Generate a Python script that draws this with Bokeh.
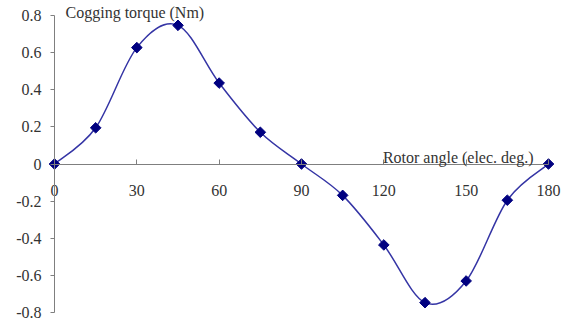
import numpy as np
from bokeh.plotting import figure
from bokeh.models import Range1d, FixedTicker, Label
from bokeh.embed import file_html
from bokeh.resources import INLINE

# ---- data ----
angles = [0, 15, 30, 45, 60, 75, 90, 105, 120, 135, 150, 165, 180]
torque = [0, 0.195, 0.627, 0.747, 0.436, 0.171, 0, -0.169, -0.436, -0.747, -0.63, -0.195, 0]
x_ticks = [0, 30, 60, 90, 120, 150, 180]
x_tick_labels = ["0", "30", "60", "90", "120", "150", "180"]
y_ticks = [-0.8, -0.6, -0.4, -0.2, 0, 0.2, 0.4, 0.6, 0.8]
y_tick_labels = ["-0.8", "-0.6", "-0.4", "-0.2", "0", "0.2", "0.4", "0.6", "0.8"]
y_title = "Cogging torque (Nm)"
x_title = "Rotor angle (elec. deg.)"

FONT = "Liberation Serif"
TXT = "#333333"
AX = "#7f7f7f"

W, H = 570, 326
p = figure(width=W, height=H, output_backend="svg", toolbar_location=None,
           x_range=Range1d(-19.68, 188.02), y_range=Range1d(-0.8754, 0.8808),
           min_border_left=0, min_border_right=0, min_border_top=0, min_border_bottom=0)
p.outline_line_color = None
p.grid.visible = False

# smooth curve (Catmull-Rom style Bezier through the data points)
x = np.array(angles, dtype=float)
y = np.array(torque, dtype=float)
xp = np.concatenate([[x[0]], x, [x[-1]]])
yp = np.concatenate([[y[0]], y, [y[-1]]])
i = np.arange(len(x) - 1)
cx0 = xp[i + 1] + (xp[i + 2] - xp[i]) / 6
cy0 = yp[i + 1] + (yp[i + 2] - yp[i]) / 6
cx1 = xp[i + 2] - (xp[i + 3] - xp[i + 1]) / 6
cy1 = yp[i + 2] - (yp[i + 3] - yp[i + 1]) / 6
p.bezier(x0=x[:-1], y0=y[:-1], x1=x[1:], y1=y[1:], cx0=cx0, cy0=cy0, cx1=cx1, cy1=cy1,
         line_color="#3535a5", line_width=1.5)
p.scatter(angles, torque, marker="square", angle=np.pi / 4, size=7.5,
          fill_color="#000080", line_color="#000080")

# axes crossing at the origin
xa = p.xaxis[0]
ya = p.yaxis[0]
xa.fixed_location = 0
ya.fixed_location = 0
xa.bounds = (0, 180)
ya.bounds = (-0.8, 0.8)
xa.ticker = FixedTicker(ticks=x_ticks)
ya.ticker = FixedTicker(ticks=y_ticks)
xa.major_label_overrides = dict(zip(x_ticks, x_tick_labels))
ya.major_label_overrides = dict(zip(y_ticks, y_tick_labels))
for ax in (xa, ya):
    ax.axis_line_color = AX
    ax.major_tick_line_color = AX
    ax.minor_tick_line_color = None
    ax.major_label_text_font = FONT
    ax.major_label_text_font_size = "16px"
    ax.major_label_text_color = TXT
xa.major_tick_in = 5
xa.major_tick_out = 0
xa.major_label_standoff = 21
ya.major_tick_in = 0
ya.major_tick_out = 4
ya.major_label_standoff = 9

p.add_layout(Label(x=0, y=0.8, x_offset=11, y_offset=3, text=y_title,
                   text_font=FONT, text_font_size="16px", text_color=TXT,
                   text_align="left", text_baseline="alphabetic"))
p.add_layout(Label(x=180, y=0, x_offset=-15, y_offset=7, text=x_title,
                   text_font=FONT, text_font_size="16px", text_color=TXT,
                   text_align="right", text_baseline="alphabetic"))

open("out.html", "w").write(file_html(p, INLINE))
